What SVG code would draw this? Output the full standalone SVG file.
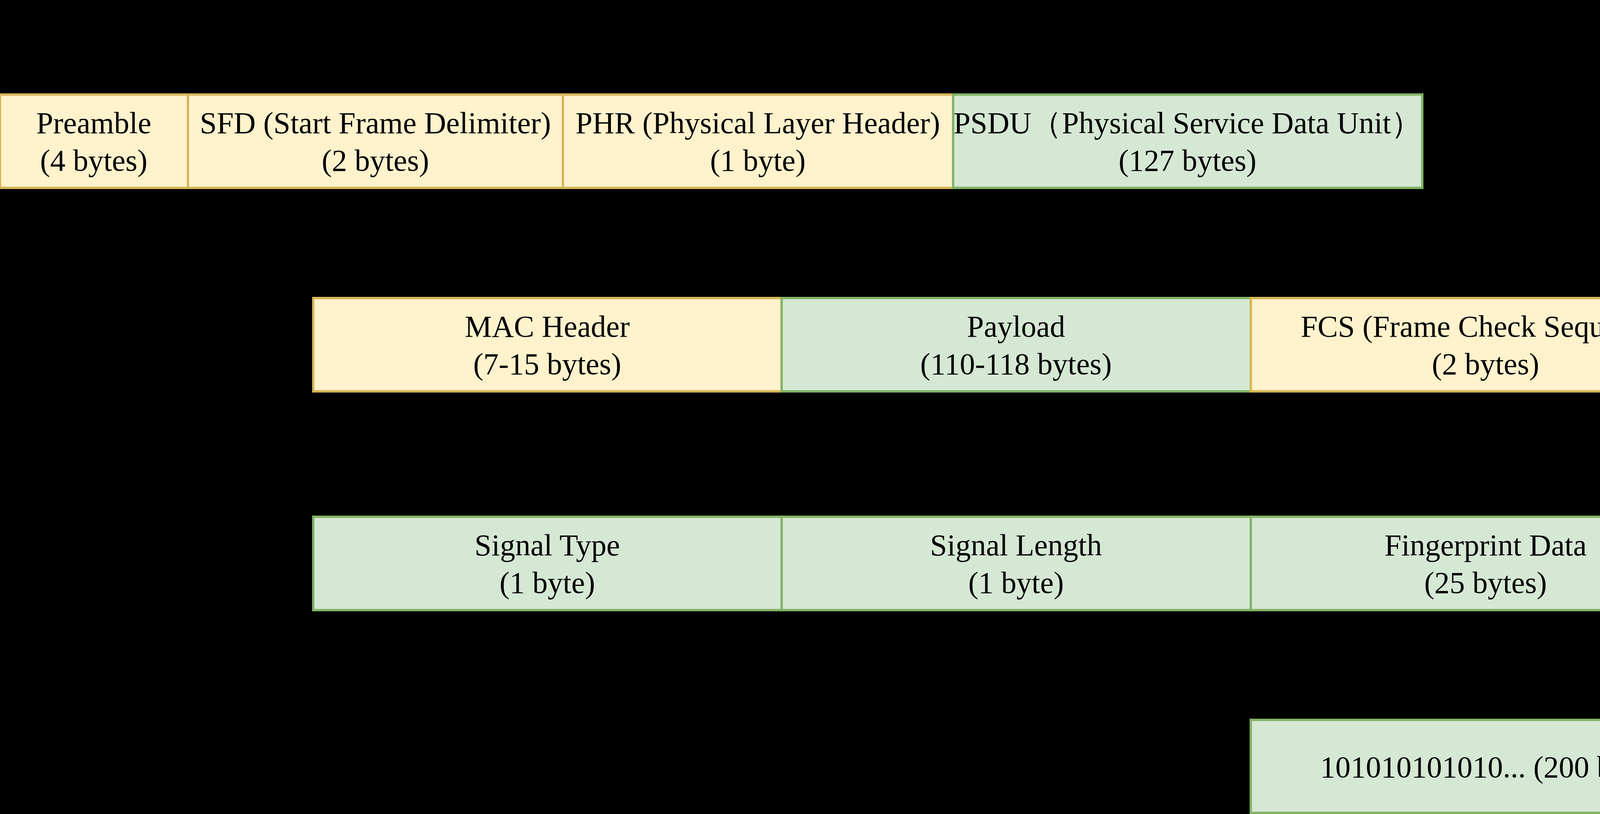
<svg xmlns="http://www.w3.org/2000/svg" width="4412" height="2084" viewBox="0 0 4412 2084">
<style>
.y{fill:#fff2cc;stroke:#d6b656;stroke-width:6}
.g{fill:#d5e8d4;stroke:#82b366;stroke-width:6}
text{font-family:"Liberation Serif","Times New Roman",serif;font-size:78px;fill:#000;text-anchor:middle}
</style>
<rect width="4412" height="2084" fill="#000"/>
<g id="preamble"><rect class="y" x="0" y="242" width="481" height="239"/><text x="240" y="341">Preamble</text><text x="240" y="437">(4 bytes)</text></g>
<g id="sfd"><rect class="y" x="481" y="242" width="960" height="239"/><text x="961" y="341">SFD (Start Frame Delimiter)</text><text x="961" y="437">(2 bytes)</text></g>
<g id="phr"><rect class="y" x="1441" y="242" width="999" height="239"/><text x="1940" y="341">PHR (Physical Layer Header)</text><text x="1940" y="437">(1 byte)</text></g>
<g id="psdu"><rect class="g" x="2440" y="242" width="1201" height="239"/><text x="3040" y="341">PSDU（Physical Service Data Unit）</text><text x="3040" y="437">(127 bytes)</text></g>
<g id="mac"><rect class="y" x="802" y="763" width="1199" height="239"/><text x="1401" y="862">MAC Header</text><text x="1401" y="958">(7-15 bytes)</text></g>
<g id="payload"><rect class="g" x="2001" y="763" width="1201" height="239"/><text x="2601" y="862">Payload</text><text x="2601" y="958">(110-118 bytes)</text></g>
<g id="fcs"><rect class="y" x="3202" y="763" width="1202" height="239"/><text x="3803" y="862">FCS (Frame Check Sequence)</text><text x="3803" y="958">(2 bytes)</text></g>
<g id="stype"><rect class="g" x="802" y="1323" width="1199" height="239"/><text x="1401" y="1422">Signal Type</text><text x="1401" y="1518">(1 byte)</text></g>
<g id="slen"><rect class="g" x="2001" y="1323" width="1201" height="239"/><text x="2601" y="1422">Signal Length</text><text x="2601" y="1518">(1 byte)</text></g>
<g id="fp"><rect class="g" x="3202" y="1323" width="1202" height="239"/><text x="3803" y="1422">Fingerprint Data</text><text x="3803" y="1518">(25 bytes)</text></g>
<g id="bits"><rect class="g" x="3202" y="1843" width="1202" height="238"/><text x="3803" y="1990">101010101010... (200 bits)</text></g>
<g id="connectors"></g>
</svg>
